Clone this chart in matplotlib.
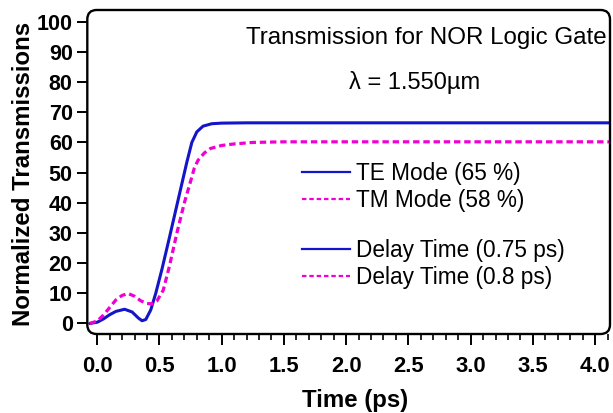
import matplotlib
matplotlib.use("Agg")
import matplotlib.pyplot as plt
from matplotlib.lines import Line2D
from matplotlib.patches import FancyBboxPatch
from matplotlib.ticker import MultipleLocator

# ---- data ----
te_time = [-0.06, 0.0, 0.05, 0.10, 0.15, 0.22, 0.28, 0.33, 0.36, 0.39, 0.43, 0.47,
           0.52, 0.58, 0.65, 0.72, 0.76, 0.80, 0.85, 0.92, 1.0, 1.2, 4.12]
te_trans = [0.0, 0.4, 1.5, 2.9, 4.0, 4.7, 3.8, 1.8, 0.9, 1.3, 4.5, 10.0,
            18.0, 28.5, 41.0, 53.5, 60.0, 63.5, 65.4, 66.2, 66.4, 66.5, 66.5]

tm_time = [-0.06, 0.0, 0.05, 0.10, 0.15, 0.20, 0.25, 0.30, 0.35, 0.40, 0.44, 0.48,
           0.53, 0.58, 0.64, 0.70, 0.745, 0.78, 0.81, 0.86, 0.91, 1.0, 1.1, 1.25, 1.5, 4.12]
tm_trans = [0.0, 0.8, 2.8, 5.3, 7.8, 9.3, 9.9, 9.0, 7.5, 6.6, 6.5, 7.5,
            11.0, 19.0, 30.0, 40.0, 46.4, 51.5, 54.1, 56.5, 58.0, 59.0, 59.5, 60.0, 60.2, 60.2]

legend_modes = ["TE Mode (65 %)", "TM Mode (58 %)"]
legend_delays = ["Delay Time (0.75 ps)", "Delay Time (0.8 ps)"]
title_text = "Transmission for NOR Logic Gate"
lambda_text = "\u03bb = 1.550\u00b5m"
x_ticks = [0.0, 0.5, 1.0, 1.5, 2.0, 2.5, 3.0, 3.5, 4.0]
y_ticks = [0, 10, 20, 30, 40, 50, 60, 70, 80, 90, 100]

BLUE = "#1414C8"
MAG = "#F000D2"

plt.rcParams['font.family'] = ['Liberation Sans', 'DejaVu Sans']

W, H = 613, 413
fig = plt.figure(figsize=(W / 100, H / 100), dpi=100)
left, right, bottom, top = 87.3, 610, 334, 10
ax = fig.add_axes([left / W, 1 - bottom / H, (right - left) / W, (bottom - top) / H])

ax.plot(te_time, te_trans, color=BLUE, lw=2.2, solid_capstyle='round')
ax.plot(tm_time, tm_trans, color=MAG, lw=2.3, linestyle=(0, (2.0, 1.2)))

ax.set_xlim(-0.08, 4.12)
ax.set_ylim(-3.5, 103.9)
ax.set_xticks(x_ticks)
ax.set_xticklabels([f"{v:.1f}" for v in x_ticks])
ax.set_yticks(y_ticks)
ax.xaxis.set_minor_locator(MultipleLocator(0.1))

for s in ax.spines.values():
    s.set_visible(False)
aw, ah = right - left, bottom - top
frame = FancyBboxPatch((0, 0), 1, 1, boxstyle="round,pad=0,rounding_size=0.018",
                       mutation_aspect=aw / ah, transform=ax.transAxes,
                       fill=False, lw=1.7, ec='black', clip_on=False, zorder=5)
ax.add_patch(frame)

ax.tick_params(axis='x', which='major', direction='out', length=8, width=1.4, pad=8,
               labelsize=15.8)
ax.tick_params(axis='x', which='minor', direction='out', length=4, width=1.2)
ax.tick_params(axis='y', which='major', direction='out', length=7.5, width=1.4, pad=3,
               labelsize=15.5)
for lab in ax.get_xticklabels() + ax.get_yticklabels():
    lab.set_fontweight('bold')

ax.set_xlabel("Time (ps)", fontsize=17.3, fontweight='bold', va='center')
ax.xaxis.set_label_coords((355 - left) / aw, (bottom - 400) / ah)
ax.set_ylabel("Normalized Transmissions", fontsize=17.3, fontweight='bold', va='center')
ax.yaxis.set_label_coords((23 - left) / aw, (bottom - 173.5) / ah)

fig.text(426 / W, 1 - 38 / H, title_text, fontsize=17.4, ha='center', va='center')
fig.text(415 / W, 1 - 82 / H, lambda_text, fontsize=17.0, ha='center', va='center')

h_te = Line2D([], [], color=BLUE, lw=1.6)
h_tm = Line2D([], [], color=MAG, lw=1.6, linestyle=(0, (2.0, 1.3)))
common = dict(loc='upper left', frameon=False, fontsize=16.3, handlelength=2.12,
              handletextpad=0.3, labelspacing=0.18, borderpad=0, borderaxespad=0)
leg1 = fig.legend([h_te, h_tm], legend_modes,
                  bbox_to_anchor=(301.7 / W, 1 - 162.0 / H), **common)
leg2 = fig.legend([h_te, h_tm], legend_delays,
                  bbox_to_anchor=(301.7 / W, 1 - 238.5 / H), **common)

fig.savefig("out.png", dpi=100)
